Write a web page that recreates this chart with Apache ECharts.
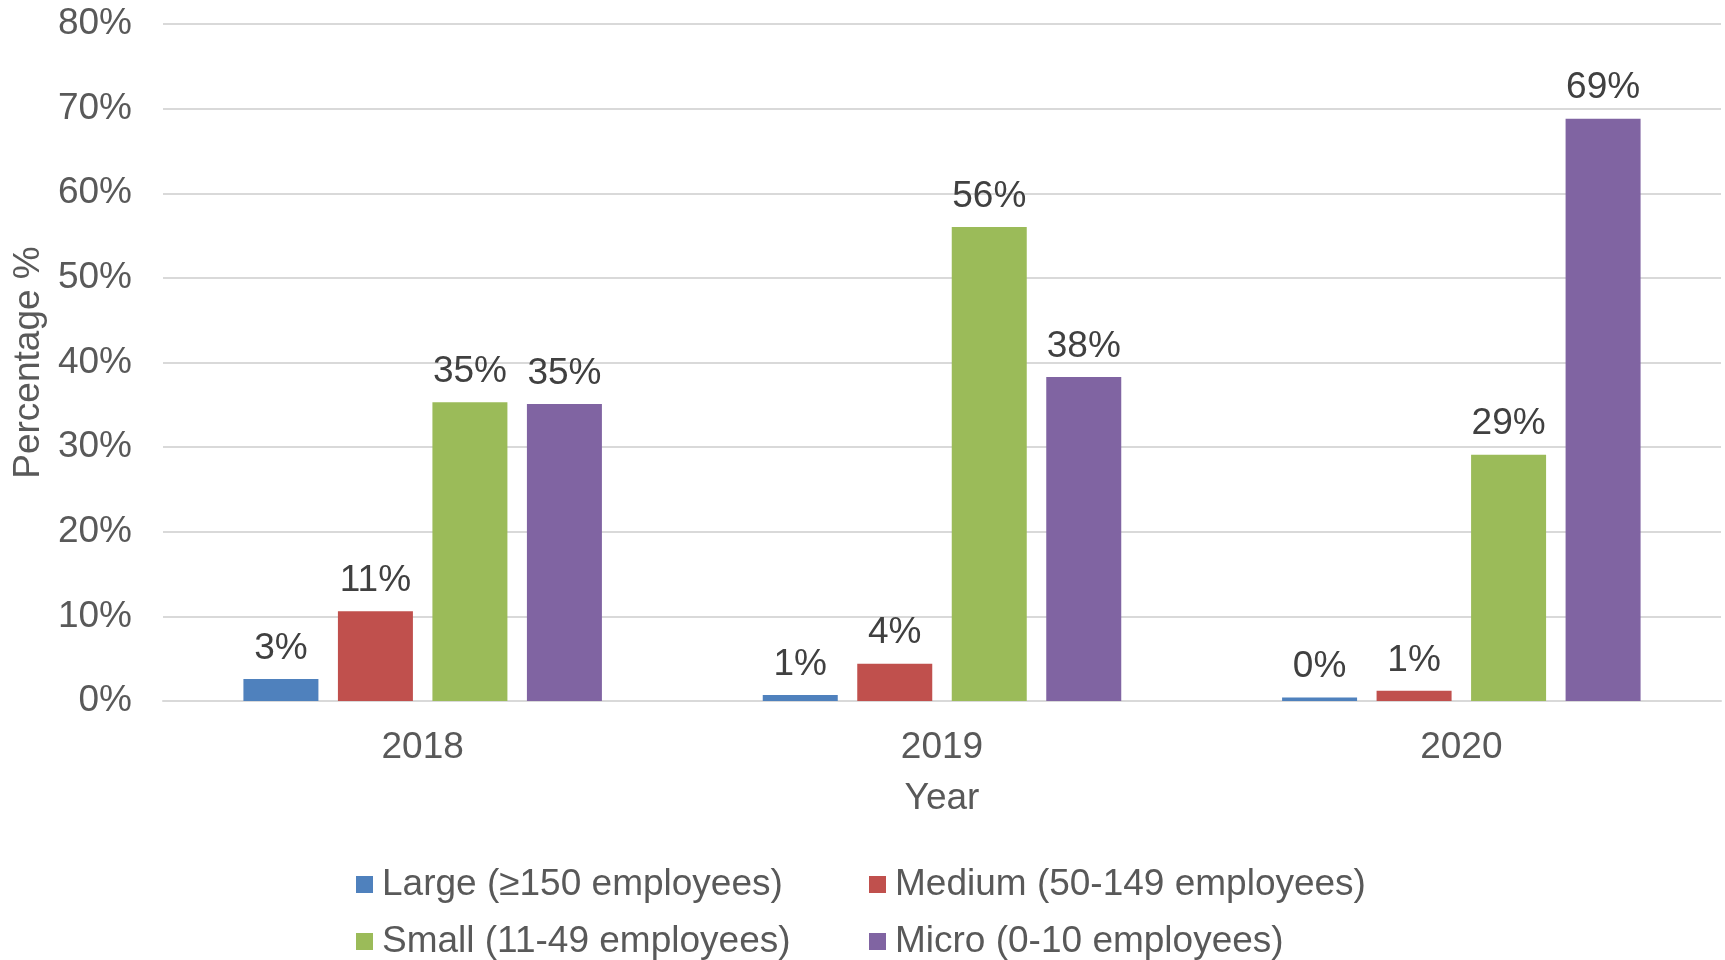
<!DOCTYPE html>
<html>
<head>
<meta charset="utf-8">
<script src="https://cdn.jsdelivr.net/npm/echarts@6/dist/echarts.min.js"></script>
<style>
html,body{margin:0;padding:0;background:#fff;}
#chart{width:1725px;height:960px;}
</style>
</head>
<body>
<div id="chart"></div>
<script>
const categories = ['2018', '2019', '2020'];
const seriesNames = ['Large (≥150 employees)', 'Medium (50-149 employees)', 'Small (11-49 employees)', 'Micro (0-10 employees)'];
const large = [2.6, 0.7, 0.4];
const medium = [10.6, 4.4, 1.2];
const small = [35.3, 56.0, 29.1];
const micro = [35.1, 38.3, 68.8];
const yTicks = [0, 10, 20, 30, 40, 50, 60, 70, 80];

const colors = ['#4F81BD', '#C0504D', '#9BBB59', '#8064A2'];
const values = [large, medium, small, micro];
const font = 'Liberation Sans, Arial, sans-serif';
const fs = 37;

const chart = echarts.init(document.getElementById('chart'));

const legendPos = [
  {left: 356, top: 866},
  {left: 869, top: 866},
  {left: 356, top: 923},
  {left: 869, top: 923}
];

const option = {
  backgroundColor: '#ffffff',
  animation: false,
  grid: {left: 163, right: 4, top: 24, bottom: 259, containLabel: false},
  legend: seriesNames.map((n, i) => ({
    data: [n],
    left: legendPos[i].left,
    top: legendPos[i].top,
    icon: 'rect',
    itemWidth: 17,
    itemHeight: 17,
    padding: 0,
    textStyle: {fontFamily: font, fontSize: fs, color: '#595959', padding: [0, 0, 0, 4]}
  })),
  xAxis: {
    type: 'category',
    data: categories,
    name: 'Year',
    nameLocation: 'middle',
    nameGap: 79,
    nameTextStyle: {fontFamily: font, fontSize: fs, color: '#595959'},
    axisLine: {show: true, lineStyle: {color: '#d9d9d9', width: 2}},
    axisTick: {show: false},
    axisLabel: {fontFamily: font, fontSize: fs, color: '#595959', margin: 28}
  },
  yAxis: {
    type: 'value',
    min: yTicks[0],
    max: yTicks[yTicks.length - 1],
    interval: 10,
    name: 'Percentage %',
    nameLocation: 'middle',
    nameGap: 115,
    nameTextStyle: {fontFamily: font, fontSize: fs, color: '#595959'},
    axisLine: {show: false},
    axisTick: {show: false},
    axisLabel: {fontFamily: font, fontSize: fs, color: '#595959', margin: 31, formatter: '{value}%'},
    splitLine: {show: true, lineStyle: {color: '#d9d9d9', width: 2}}
  },
  series: seriesNames.map((n, i) => ({
    name: n,
    type: 'bar',
    data: values[i],
    barWidth: 75,
    barGap: '26%',
    itemStyle: {color: colors[i]},
    label: {
      show: true,
      position: 'top',
      distance: 12,
      fontFamily: font,
      fontSize: fs,
      color: '#404040',
      formatter: p => Math.round(p.value) + '%'
    }
  }))
};
chart.setOption(option);
</script>
</body>
</html>
